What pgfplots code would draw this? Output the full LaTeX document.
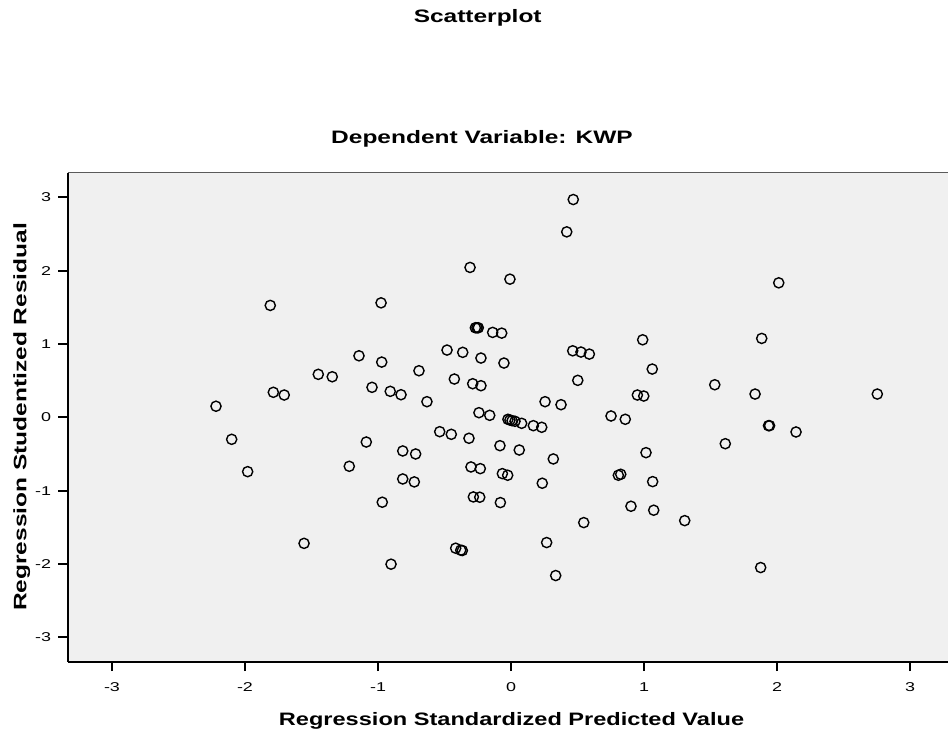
\documentclass[border=0pt]{standalone}
\usepackage{graphicx}
\usepackage{fontspec}
\setmainfont{Liberation Sans}
\usepackage{pgfplots}
\pgfplotsset{compat=1.18}
\definecolor{bg}{HTML}{F0F0F0}
\definecolor{topline}{HTML}{5A5A5A}
\newcommand\tklab[1]{\scalebox{1.4}[1]{#1}}
\newcommand\wide[1]{\scalebox{1.36}[1]{#1}}
\begin{document}
\begin{tikzpicture}
\begin{axis}[
  name=ax,
  scale only axis,
  width=443.3pt, height=244.5pt,
  xmin=-3.333, xmax=3.333,
  ymin=-3.333, ymax=3.336,
  axis x line*=bottom, axis y line*=left,
  axis line style={line width=0.9pt, black, -},
  axis background/.style={fill=bg},
  xtick={-3,-2,-1,0,1,2,3},
  ytick={-3,-2,-1,0,1,2,3},
  xticklabels={\tklab{-3},\tklab{-2},\tklab{-1},\tklab{0},\tklab{1},\tklab{2},\tklab{3}},
  yticklabels={\tklab{-3},\tklab{-2},\tklab{-1},\tklab{0},\tklab{1},\tklab{2},\tklab{3}},
  xtick align=outside, ytick align=outside,
  major tick length=4.75pt,
  major tick style={draw=black, line width=0.9pt},
  xticklabel style={font=\fontsize{6.4pt}{7pt}\selectfont, yshift=-2pt},
  yticklabel style={font=\fontsize{6.4pt}{7pt}\selectfont},
  clip=false,
]
\addplot[only marks, mark=o, mark size=2.55pt, mark options={line width=0.7pt, black}] coordinates {
(0.468,2.970) (0.419,2.529) (-0.308,2.044) (-0.008,1.884) (2.013,1.834)
(-0.977,1.561) (-1.810,1.526) (-0.268,1.221) (-0.256,1.221) (-0.246,1.221)
(-0.138,1.158) (-0.070,1.148) (0.990,1.057) (1.885,1.076) (-1.143,0.839)
(-0.972,0.753) (-0.481,0.917) (-0.363,0.886) (-0.226,0.808) (-0.053,0.740)
(0.464,0.907) (0.526,0.890) (0.589,0.862) (-1.449,0.586) (-1.344,0.553)
(-0.692,0.635) (-0.426,0.522) (-0.288,0.458) (-0.226,0.431) (0.502,0.504)
(1.062,0.658) (-1.045,0.409) (-0.908,0.354) (-0.827,0.308) (-1.787,0.341)
(-1.705,0.304) (1.532,0.444) (0.950,0.304) (0.998,0.290) (1.835,0.317)
(2.754,0.317) (-2.218,0.151) (-0.632,0.213) (0.256,0.213) (0.376,0.172)
(-0.241,0.063) (-0.160,0.027) (-0.023,-0.027) (-0.008,-0.037) (0.008,-0.046)
(0.030,-0.054) (0.080,-0.082) (0.168,-0.114) (0.231,-0.136) (0.752,0.018)
(0.859,-0.027) (-0.536,-0.196) (-0.449,-0.232) (-0.316,-0.286) (-1.088,-0.337)
(-0.083,-0.387) (0.062,-0.446) (-0.814,-0.459) (-0.717,-0.500) (-1.216,-0.668)
(0.318,-0.568) (-0.301,-0.677) (-0.231,-0.700) (-0.065,-0.768) (-0.025,-0.790)
(0.807,-0.790) (0.825,-0.777) (-0.814,-0.841) (-0.727,-0.881) (0.235,-0.899)
(-0.968,-1.158) (-0.283,-1.086) (-0.235,-1.090) (-0.080,-1.163) (0.547,-1.436)
(-1.556,-1.719) (0.268,-1.708) (-0.416,-1.785) (-0.378,-1.812) (-0.366,-1.817)
(-0.902,-2.003) (0.336,-2.158) (1.936,-0.114) (1.944,-0.114) (2.143,-0.200)
(1.611,-0.360) (1.015,-0.482) (1.065,-0.877) (0.902,-1.213) (1.073,-1.267)
(1.306,-1.409) (1.877,-2.049) (-2.100,-0.300) (-1.980,-0.741)
};
\draw[topline, line width=0.6pt] (rel axis cs:0,1) -- (rel axis cs:1,1);
\end{axis}
\node[anchor=base, inner sep=0pt, font=\bfseries\fontsize{9pt}{10pt}\selectfont] at (205pt,319.35pt) {\wide{Scatterplot}};
\node[anchor=base, inner sep=0pt, font=\bfseries\fontsize{9pt}{10pt}\selectfont] at (207.15pt,259.2pt) {\wide{Dependent Variable: KWP}};
\node[anchor=base, inner sep=0pt, font=\bfseries\fontsize{9pt}{10pt}\selectfont] at (221.9pt,-31.65pt) {\scalebox{1.31}[1]{Regression Standardized Predicted Value}};
\node[anchor=base, inner sep=0pt, rotate=90, font=\bfseries\fontsize{9pt}{10pt}\selectfont] at (-20.7pt,122.35pt) {\wide{Regression Studentized Residual}};
\pgfresetboundingbox
\path (-33.85pt,-33.65pt) rectangle (440.15pt,330.85pt);
\end{tikzpicture}
\end{document}
